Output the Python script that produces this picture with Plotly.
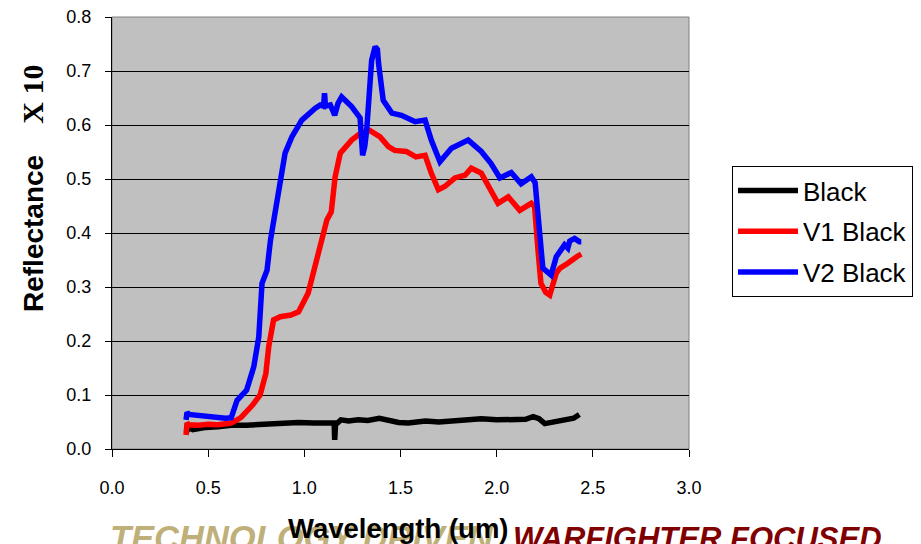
import plotly.graph_objects as go

# ---------------- data ----------------
black_x = [0.385, 0.40, 0.42, 0.45, 0.49, 0.55, 0.62, 0.70, 0.80, 0.87, 0.97, 1.05, 1.13,
           1.155, 1.158, 1.162, 1.19, 1.23, 1.28, 1.33, 1.39, 1.45, 1.49, 1.54, 1.63, 1.70,
           1.75, 1.85, 1.92, 2.00, 2.10, 2.15, 2.19, 2.22, 2.25, 2.29, 2.35, 2.40, 2.43]
black_y = [0.030, 0.040, 0.036, 0.038, 0.040, 0.041, 0.044, 0.044, 0.046, 0.048, 0.049, 0.048, 0.049,
           0.048, 0.017, 0.045, 0.054, 0.052, 0.054, 0.053, 0.057, 0.051, 0.049, 0.048, 0.052, 0.050,
           0.051, 0.053, 0.056, 0.054, 0.055, 0.055, 0.060, 0.056, 0.047, 0.050, 0.054, 0.057, 0.064]

v1_x = [0.385, 0.39, 0.40, 0.45, 0.50, 0.55, 0.62, 0.67, 0.73, 0.77, 0.80, 0.815, 0.84, 0.875,
        0.93, 0.97, 1.02, 1.04, 1.065, 1.083, 1.117, 1.14, 1.16, 1.187, 1.246, 1.30, 1.34, 1.394,
        1.437, 1.47, 1.53, 1.58, 1.628, 1.66, 1.697, 1.73, 1.783, 1.835, 1.868, 1.92, 1.956,
        2.007, 2.06, 2.12, 2.18, 2.197, 2.215, 2.23, 2.255, 2.276, 2.31, 2.33, 2.37, 2.39, 2.42, 2.44]
v1_y = [0.026, 0.048, 0.045, 0.044, 0.046, 0.045, 0.048, 0.058, 0.081, 0.100, 0.140, 0.190, 0.239, 0.245,
        0.248, 0.254, 0.289, 0.319, 0.350, 0.374, 0.424, 0.439, 0.504, 0.548, 0.572, 0.587, 0.590, 0.578,
        0.560, 0.553, 0.551, 0.541, 0.544, 0.511, 0.480, 0.486, 0.502, 0.507, 0.520, 0.511, 0.489,
        0.455, 0.467, 0.442, 0.455, 0.449, 0.368, 0.307, 0.290, 0.285, 0.326, 0.335, 0.344, 0.350, 0.357, 0.361]

v2_x = [0.385, 0.39, 0.40, 0.45, 0.50, 0.55, 0.59, 0.62, 0.65, 0.70, 0.737, 0.763, 0.78, 0.806,
        0.824, 0.85, 0.876, 0.90, 0.935, 0.987, 1.057, 1.083, 1.10, 1.105, 1.11, 1.135, 1.15, 1.158,
        1.175, 1.194, 1.246, 1.29, 1.303, 1.314, 1.324, 1.35, 1.368, 1.38, 1.386, 1.41, 1.455,
        1.505, 1.576, 1.628, 1.66, 1.705, 1.765, 1.852, 1.92, 1.97, 2.017, 2.076, 2.127, 2.18,
        2.20, 2.224, 2.24, 2.283, 2.31, 2.353, 2.37, 2.38, 2.405, 2.43, 2.44]
v2_y = [0.054, 0.068, 0.064, 0.062, 0.061, 0.060, 0.057, 0.058, 0.090, 0.109, 0.152, 0.207, 0.307, 0.331,
        0.387, 0.442, 0.498, 0.548, 0.578, 0.609, 0.631, 0.637, 0.635, 0.659, 0.635, 0.637, 0.625, 0.618,
        0.640, 0.652, 0.634, 0.613, 0.544, 0.560, 0.590, 0.720, 0.745, 0.740, 0.714, 0.646, 0.622,
        0.618, 0.606, 0.609, 0.572, 0.532, 0.557, 0.572, 0.551, 0.529, 0.502, 0.512, 0.491, 0.504,
        0.493, 0.406, 0.335, 0.322, 0.356, 0.378, 0.372, 0.385, 0.390, 0.384, 0.384]

series_names = ["Black", "V1 Black", "V2 Black"]
series_colors = ["#000000", "#FF0000", "#0000FF"]
x_ticks = [0.0, 0.5, 1.0, 1.5, 2.0, 2.5, 3.0]
y_ticks = [0.0, 0.1, 0.2, 0.3, 0.4, 0.5, 0.6, 0.7, 0.8]

# ---------------- layout geometry ----------------
W, H = 921, 544
L, R, T, B = 112, 689, 17, 449
pw, ph = R - L, B - T


def px(xpix):
    return (xpix - L) / pw


def py(ypix):
    return (B - ypix) / ph


fig = go.Figure()
for name, color, xs, ys in zip(series_names, series_colors,
                               [black_x, v1_x, v2_x], [black_y, v1_y, v2_y]):
    fig.add_trace(go.Scatter(x=xs, y=ys, mode="lines", name=name, legendgroup=name,
                             line=dict(color=color, width=5.5)))

fig.update_layout(
    width=W, height=H,
    margin=dict(l=L, r=W - R, t=T, b=H - B, autoexpand=False),
    paper_bgcolor="white", plot_bgcolor="#C0C0C0",
    font=dict(family="Arial, Liberation Sans, sans-serif", color="black", size=18),
    showlegend=True,
    legend=dict(x=px(732), y=py(166), xanchor="left", yanchor="top",
                bgcolor="white", bordercolor="black", borderwidth=1,
                font=dict(size=26, family="Arial, Liberation Sans, sans-serif"),
                traceorder="grouped", tracegroupgap=4, itemwidth=60),
)
fig.update_xaxes(range=[0, 3], tickvals=x_ticks, ticktext=[f"{v:.1f}" for v in x_ticks],
                 ticks="outside", ticklen=7, tickcolor="black", showline=True,
                 linecolor="black", linewidth=1, showgrid=False, zeroline=False,
                 ticklabelstandoff=15, tickfont=dict(size=18))
fig.update_yaxes(range=[0, 0.8], tickvals=y_ticks, ticktext=[f"{v:.1f}" for v in y_ticks],
                 ticks="outside", ticklen=6, tickcolor="black", showline=True,
                 linecolor="black", linewidth=1, showgrid=True, gridcolor="black",
                 gridwidth=1, zeroline=False, ticklabelstandoff=10, tickfont=dict(size=18))

# plot-area border (right/top in gray)
fig.add_shape(type="rect", xref="paper", yref="paper", x0=0, x1=1, y0=0, y1=1,
              line=dict(color="#808080", width=1), layer="below")

# footer slogan
fig.add_annotation(text="<i><b>TECHNOLOGY DRIVEN.</b></i>", xref="paper", yref="paper",
                   x=px(108), y=py(517), xanchor="left", yanchor="top", showarrow=False,
                   font=dict(size=34.5, color="#BFB07A", family="Arial, Liberation Sans, sans-serif"))
fig.add_annotation(text="<i><b>WARFIGHTER FOCUSED.</b></i>", xref="paper", yref="paper",
                   x=px(511), y=py(519), xanchor="left", yanchor="top", showarrow=False,
                   font=dict(size=31, color="#800000", family="Arial, Liberation Sans, sans-serif"))

# axis titles
fig.add_annotation(text="<b>Wavelength (um)</b>", xref="paper", yref="paper",
                   x=px(398), y=py(528), xanchor="center", yanchor="middle", showarrow=False,
                   font=dict(size=27.5, color="black"))
fig.add_annotation(
    text="<b>Reflectance\u00a0\u00a0\u00a0\u00a0<span style='font-family:Liberation Serif, Times New Roman, serif;font-size:30px'>X 10</span></b>",
    xref="paper", yref="paper", x=px(32), y=py(189), xanchor="center", yanchor="middle",
    textangle=-90, showarrow=False, font=dict(size=28, color="black"))

fig.write_html("out.html", config={"displayModeBar": False},
               post_script="document.body.style.margin='0px';")
